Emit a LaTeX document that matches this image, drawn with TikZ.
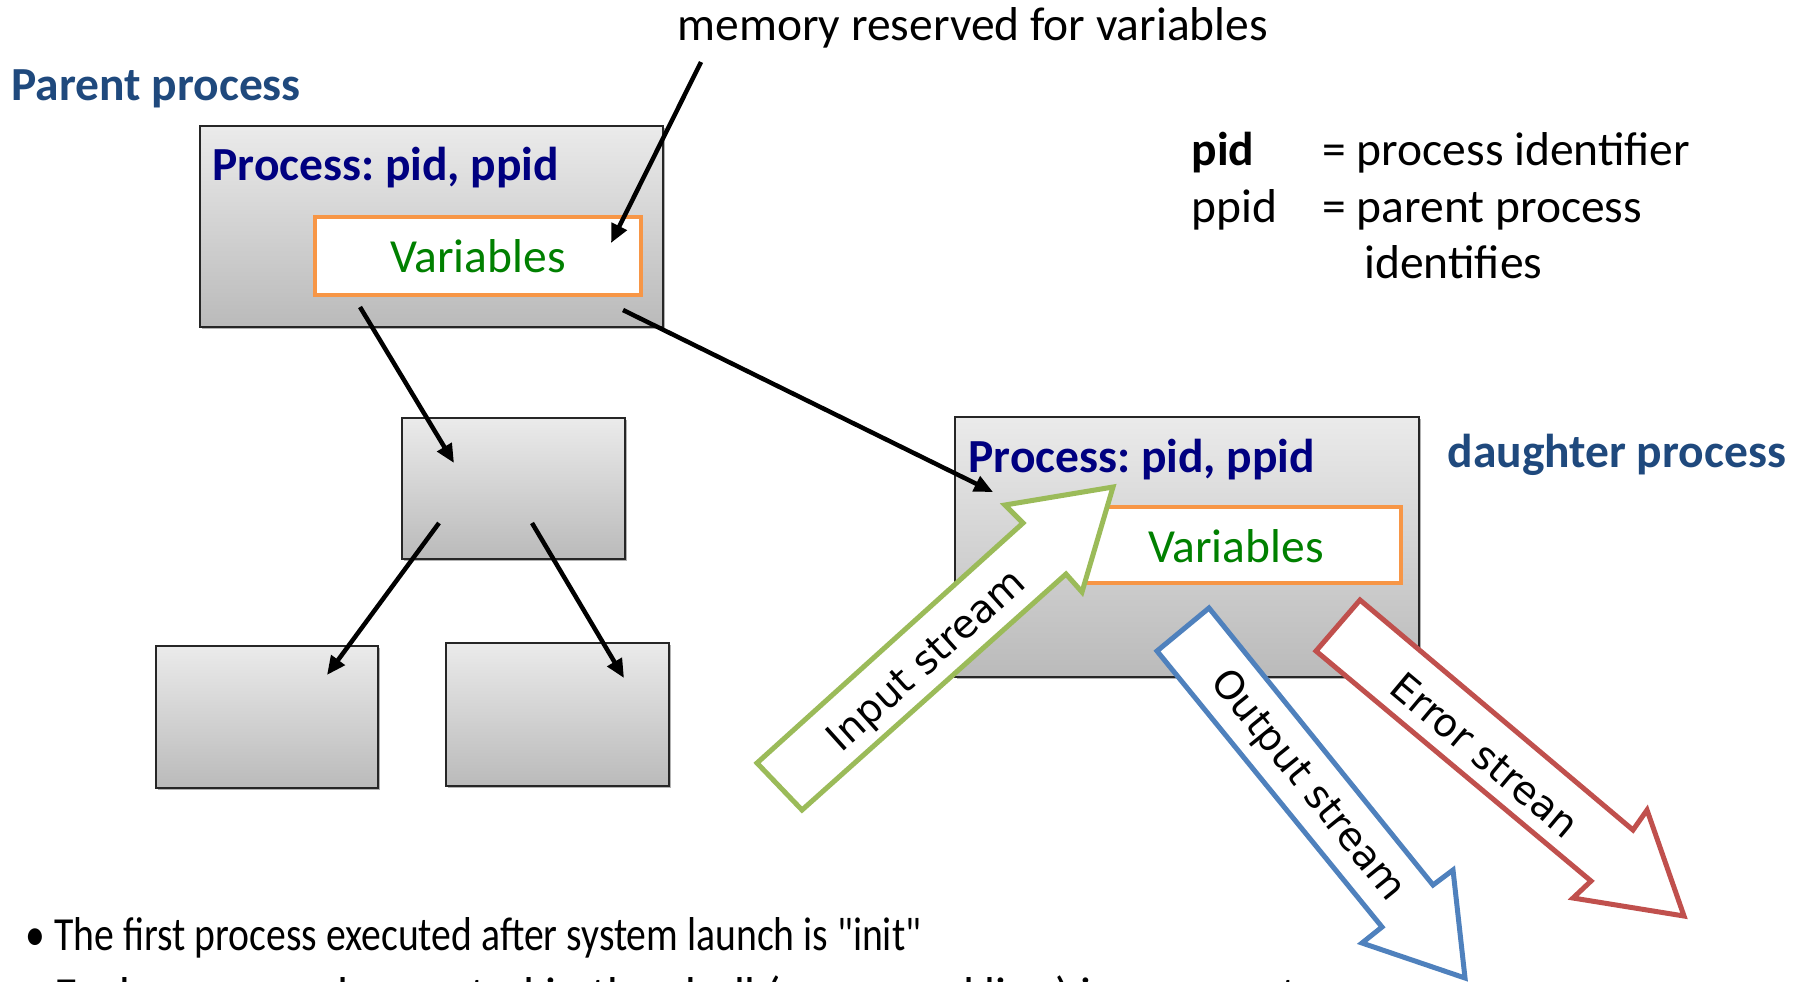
\documentclass[tikz,border=0pt]{standalone}
\usepackage{fontspec}
\usepackage{graphicx}
\setmainfont{Carlito}[Ligatures=TeXOff]
\newfontfamily\dejavu{DejaVu Sans}
\usetikzlibrary{arrows.meta,shadows}
\definecolor{navy}{HTML}{000080}
\definecolor{hdrblue}{HTML}{1F497D}
\definecolor{vargreen}{HTML}{008000}
\definecolor{orng}{HTML}{F79646}
\definecolor{sgreen}{HTML}{9BBB59}
\definecolor{sblue}{HTML}{4F81BD}
\definecolor{sred}{HTML}{C0504D}
\frenchspacing
\begin{document}
\begin{tikzpicture}[x=0.4pt,y=-0.4pt,
  procbox/.style={draw=black!85, line width=0.8pt, top color=black!8, bottom color=black!27,
    anchor=north west, inner sep=0pt, outer sep=0pt,
    drop shadow={shadow xshift=0.8pt, shadow yshift=-0.8pt, opacity=0.3, fill=black}},
  varbox/.style={draw=orng, line width=1.4pt, fill=white, anchor=north west, inner sep=0pt, outer sep=0pt},
  txt/.style={font=\fontsize{19}{23}\selectfont, inner sep=0pt},
  btxt/.style={font=\fontsize{19}{23}\selectfont\bfseries, inner sep=0pt},
  bottxt/.style={font=\fontsize{19}{23}\selectfont, inner sep=0pt, anchor=base west},
  streamlbl/.style={font=\dejavu\fontsize{15.6}{19}\selectfont, inner sep=0pt},
  ptr/.style={line width=1.8pt, -{Triangle[length=7.5pt,width=6.5pt]}},
  stream/.style={line width=2pt, fill=white, line join=miter}
]
\useasboundingbox (0,0) rectangle (1804,981);
\clip (0,0) rectangle (1804,981);

% headings
\node[txt, anchor=base west] (memtext) at (677,40) {memory reserved for variables};
\node[btxt, anchor=base west, text=hdrblue] (parentlbl) at (11,100) {Parent process};
\node[btxt, anchor=base west, text=hdrblue] (daughterlbl) at (1447,467) {daughter process};

% legend
\node[btxt, anchor=base west] (pidk) at (1191,165) {pid};
\node[txt, anchor=base west] (pidv) at (1322,165) {= process identifier};
\node[txt, anchor=base west] (ppidk) at (1191,222) {ppid};
\node[txt, anchor=base west] (ppidv) at (1322,222) {= parent process};
\node[txt, anchor=base west] (ppidv2) at (1364,278) {identifies};

% parent process
\node[procbox, minimum width={463*0.4pt}, minimum height={201*0.4pt}] (parent) at (200,126) {};
\node[varbox, minimum width={326*0.4pt}, minimum height={78*0.4pt}] (pvars) at (315,217) {};
\node[btxt, text=navy, anchor=base west] (ptitle) at (212,180) {Process: pid, ppid};
\node[txt, text=vargreen, anchor=base] (pvarlbl) at (478,272) {Variables};

% tree of boxes
\node[procbox, minimum width={223*0.4pt}, minimum height={141*0.4pt}] (mid) at (402,418) {};
\node[procbox, minimum width={222*0.4pt}, minimum height={142*0.4pt}] (bl) at (156,646) {};
\node[procbox, minimum width={223*0.4pt}, minimum height={143*0.4pt}] (br) at (446,643) {};

% daughter process
\node[procbox, minimum width={464*0.4pt}, minimum height={260*0.4pt}] (daughter) at (955,417) {};
\node[varbox, minimum width={326*0.4pt}, minimum height={76*0.4pt}] (dvars) at (1075,507) {};
\node[btxt, text=navy, anchor=base west] (dtitle) at (968,472) {Process: pid, ppid};
\node[txt, text=vargreen, anchor=base] (dvarlbl) at (1236,562) {Variables};

% black arrows
\coordinate (memS) at (701,62);
\coordinate (memE) at (611,243);
\coordinate (p2mS) at (360,307);
\coordinate (p2mE) at (454,463);
\coordinate (p2dS) at (623,310);
\coordinate (p2dE) at (993,492);
\coordinate (m2lS) at (439,523);
\coordinate (m2lE) at (327,675);
\coordinate (m2rS) at (532,523);
\coordinate (m2rE) at (624,678);
\draw[ptr] (memS) -- (memE);
\draw[ptr] (p2mS) -- (p2mE);
\draw[ptr] (p2dS) -- (p2dE);
\draw[ptr] (m2lS) -- (m2lE);
\draw[ptr] (m2rS) -- (m2rE);

% bottom bullet text (drawn before the output arrow, which covers its end)
\node[bottxt] (b1) at (25,950) {\scalebox{0.835}[1]{\textbullet}};
\node[bottxt] (t1) at (54,950) {\scalebox{0.835}[1]{The first process executed after system launch is "init"}};
\node[bottxt] (b2) at (25,1010) {\textbullet};
\node[bottxt] (t2) at (54,1010) {Each command executed in the shell (command line) is a separate process};

% stream arrows
\draw[stream, draw=sgreen] (757,763) -- (1023,523) -- (1005,505) -- (1113,487)
  -- (1082,592) -- (1066,574) -- (802,810) -- cycle;
\node[streamlbl, rotate=42] (inlbl) at (928,662) {Input stream};

\draw[stream, draw=sblue] (1157,651) -- (1209,608) -- (1433,885) -- (1453,870)
  -- (1465,978) -- (1362,943) -- (1382,927) -- cycle;
\node[streamlbl, rotate=-51] (outlbl) at (1307,786) {Output stream};

\draw[stream, draw=sred] (1316,651) -- (1360,600) -- (1633,830) -- (1647,810)
  -- (1684,916) -- (1573,898) -- (1591,881) -- cycle;
\node[streamlbl, rotate=-40] (errlbl) at (1485,755) {Error strean};
\end{tikzpicture}
\end{document}
